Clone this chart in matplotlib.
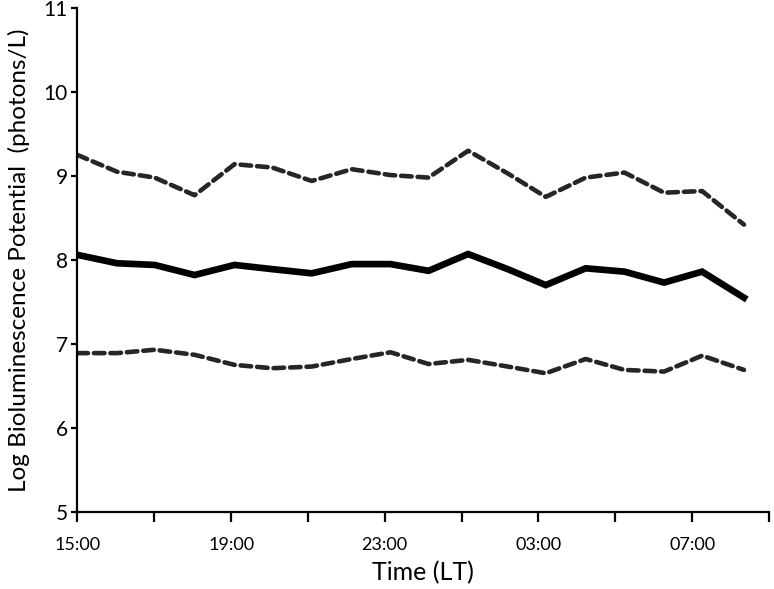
import matplotlib
matplotlib.use("Agg")
import matplotlib.pyplot as plt

# hours after 15:00 LT
hours = [0, 1.03, 2.01, 3.05, 4.09, 5.07, 6.10, 7.14, 8.15, 9.14,
         10.17, 11.20, 12.19, 13.23, 14.24, 15.27, 16.26, 17.35]

mean_bp = [8.06, 7.96, 7.94, 7.82, 7.94, 7.89, 7.84, 7.95, 7.95, 7.87,
           8.07, 7.89, 7.70, 7.90, 7.86, 7.73, 7.86, 7.55]
upper_bp = [9.25, 9.05, 8.98, 8.77, 9.14, 9.10, 8.94, 9.08, 9.01, 8.98,
            9.30, 9.03, 8.75, 8.98, 9.04, 8.80, 8.82, 8.42]
lower_bp = [6.89, 6.89, 6.93, 6.87, 6.75, 6.71, 6.73, 6.82, 6.90, 6.76,
            6.81, 6.73, 6.65, 6.82, 6.69, 6.67, 6.86, 6.69]

tick_hours = [0, 2, 4, 6, 8, 10, 12, 14, 16, 18]
tick_labels = ["15:00", "", "19:00", "", "23:00", "", "03:00", "", "07:00", ""]

plt.rcParams['font.family'] = ['Lato', 'DejaVu Sans']

fig = plt.figure(figsize=(7.74, 5.89), dpi=100)
ax = fig.add_axes([0.1, 0.131, 0.8935, 0.8555])

dash_col = '#262626'
ax.plot(hours, upper_bp, color=dash_col, lw=3.3, dashes=(2.3, 1.3), dash_capstyle='round')
ax.plot(hours, lower_bp, color=dash_col, lw=3.3, dashes=(2.3, 1.3), dash_capstyle='round')
ax.plot(hours, mean_bp, color='black', lw=4.8, solid_joinstyle='miter')

ax.set_xlim(0, 18)
ax.set_ylim(5, 11)
ax.set_xticks(tick_hours)
ax.set_xticklabels(tick_labels)
ax.set_yticks([5, 6, 7, 8, 9, 10, 11])

for s in ['top', 'right']:
    ax.spines[s].set_visible(False)
for s in ['left', 'bottom']:
    ax.spines[s].set_linewidth(1.6)

ax.tick_params(axis='x', length=7, width=1.6, labelsize=13, pad=11)
ax.tick_params(axis='y', length=4, width=1.6, labelsize=15, pad=3)

ax.set_xlabel('Time (LT)', fontsize=18, labelpad=6)
ax.set_ylabel('Log Bioluminescence Potential  (photons/L)', fontsize=17.5, labelpad=10)

plt.savefig('out.png', dpi=100)
